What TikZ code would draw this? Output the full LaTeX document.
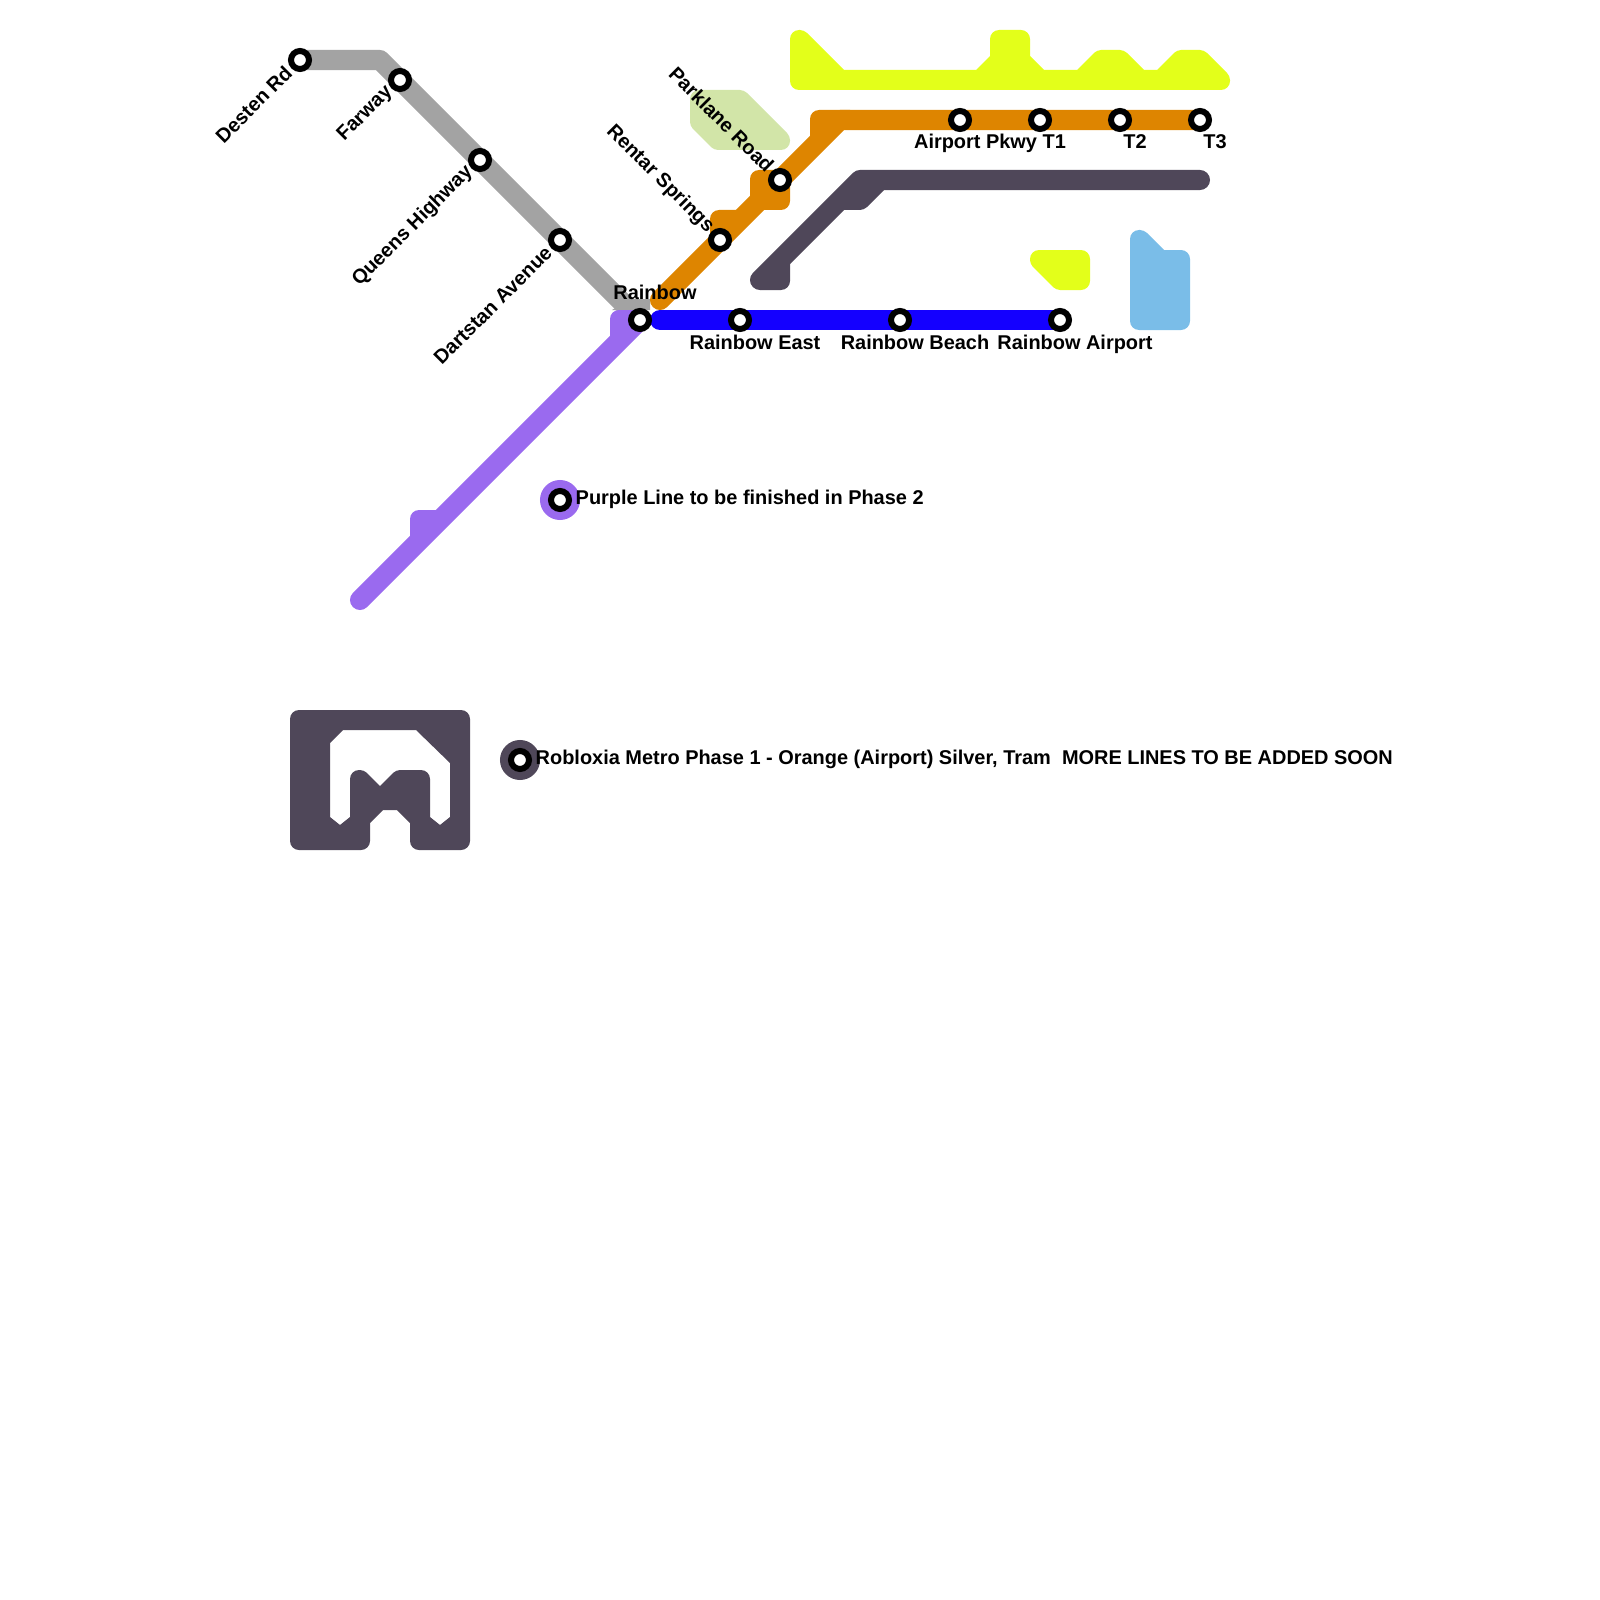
\documentclass[tikz,border=0pt]{standalone}
\usepackage{fontspec}
\setmainfont{Liberation Sans}
\usetikzlibrary{backgrounds}

\definecolor{lineGray}{HTML}{A3A3A3}
\definecolor{lineOrange}{HTML}{DE8500}
\definecolor{lineBlue}{HTML}{1400FF}
\definecolor{linePurple}{HTML}{9A6AEF}
\definecolor{lineDark}{HTML}{4F4759}
\definecolor{lineYellow}{HTML}{E3FF1A}
\definecolor{waterBlue}{HTML}{7ABDE8}
\definecolor{parkGreen}{HTML}{D2E5A8}

\begin{document}
\begin{tikzpicture}[
                x=0.01cm, y=-0.01cm,
                metro/.style = {line width=0.2cm, line cap=round, line join=round},
                blob/.style = {rounded corners=0.09cm},
                soft/.style = {rounded corners=0.04cm},
                station/.style = {circle, draw=black, fill=white, line width=0.06cm, minimum size=0.18cm, inner sep=0pt},
                key/.style = {circle, minimum size=0.4cm, inner sep=0pt},
                % Stile per i testi
                stlabel/.style = {font=\bfseries\fontsize{5.67}{7}\selectfont, inner sep=0pt, anchor=base},
                up label/.style = {stlabel, rotate=45, anchor=east},
                down label/.style = {stlabel, rotate=-45, anchor=east}
                ]
                \useasboundingbox (0,0) rectangle (1600,1600);

                % --- Stazioni ---
                \node[key, fill=linePurple] (purpleKey) at (560,500) {};
                \node[key, fill=lineDark] (metroKey) at (520,760) {};
                \foreach \st/\px/\py in {desten/300/60, farway/400/80, queens/480/160, dartstan/560/240,
                    rainbow/640/320, rentar/720/240, parklane/780/180, pkwy/960/120, tone/1040/120,
                    ttwo/1120/120, tthree/1200/120, rbEast/740/320, rbBeach/900/320, rbAirport/1060/320,
                    purpleDot/560/500, metroDot/520/760} {
                    \node[station] (\st) at (\px,\py) {};
                }

                % --- Curve ---
                \coordinate (grayBend) at (380,60);
                \coordinate (grayEnd) at (630,310);
                \coordinate (orangeEnd) at (660,300);
                \coordinate (orangeBend) at (840,120);
                \coordinate (blueEnd) at (660,320);
                \coordinate (purpleEnd) at (360,600);
                \coordinate (darkEnd) at (1200,180);
                \coordinate (darkBend) at (860,180);
                \coordinate (darkFoot) at (760,280);

                \begin{scope}[on background layer]
                    % --- Zone ---
                    \fill[parkGreen, blob] (690,90) [soft] -- (744,90) -- (790,136) [blob] -- (790,150) [soft] -- (714,150) -- (690,126) [blob] -- cycle;
                    \fill[lineYellow, blob] (790,90) -- (790,30) [soft] -- (804,30) [sharp corners] -- (844,70) -- (976,70) -- (990,56) [blob] -- (990,30) -- (1030,30) [sharp corners] -- (1030,56) -- (1044,70) -- (1077,70) [soft] -- (1097,50) -- (1124,50) [sharp corners] -- (1144,70) -- (1157,70) [soft] -- (1177,50) -- (1204,50) -- (1230,76) [blob] -- (1230,90) -- cycle;
                    \fill[lineYellow, blob] (1030,264) [blob] -- (1030,250) -- (1090,250) -- (1090,290) [soft] -- (1056,290) -- cycle;
                    \fill[waterBlue, blob] (1130,330) -- (1130,230) [soft] -- (1144,230) [sharp corners] -- (1164,250) [blob] -- (1190,250) -- (1190,330) -- cycle;

                    % --- Linee ---
                    \draw[metro, lineGray, line cap=butt] (desten.center) -- (grayBend) -- (grayEnd);
                    \fill[lineGray] (612,310) -- (650,310) -- (650,299) -- (630,299) -- cycle;
                    \draw[metro, linePurple] (purpleEnd) -- (rainbow.center);
                    \fill[linePurple, blob] (610,345) -- (610,310) [sharp corners] -- (645,310) -- cycle;
                    \fill[linePurple, blob] (410,545) -- (410,510) [sharp corners] -- (445,510) -- cycle;
                    \draw[metro, lineOrange] (orangeEnd) -- (rentar.center) -- (parklane.center) -- (orangeBend) -- (tthree.center);
                    \fill[lineOrange, blob] (810,150) -- (810,110) [sharp corners] -- (850,110) -- cycle;
                    \fill[lineOrange, blob] (750,170) [sharp corners] -- (790,170) [blob] -- (790,210) [sharp corners] -- (750,210) [blob] -- cycle;
                    \fill[lineOrange, blob] (710,250) -- (710,210) [sharp corners] -- (750,210) -- cycle;
                    \draw[metro, lineBlue] (blueEnd) -- (rbAirport.center);
                    \draw[metro, lineDark] (darkEnd) -- (darkBend) -- (darkFoot);
                    \fill[lineDark] (790,250) [blob] -- (790,290) [sharp corners] -- (760,290) -- (760,280) -- cycle;
                    \fill[lineDark] (840,190) -- (884,190) [soft] -- (864,210) [sharp corners] -- (840,210) -- cycle;

                    % --- Logo ---
                    \fill[lineDark, even odd rule, blob] (290,710) -- (470,710) -- (470,850) -- (410,850) [sharp corners] -- (410,823) -- (397,810) -- (383,810) -- (370,823) [blob] -- (370,850) -- (290,850) -- cycle
                        [sharp corners] (330,743) -- (343,730) -- (416,730) -- (450,763) -- (450,817) -- (440,825) -- (430,817) [blob] -- (430,770) [soft] -- (396,770) [sharp corners] -- (380,786) [soft] -- (364,770) [blob] -- (350,770) [sharp corners] -- (350,817) -- (340,825) -- (330,817) -- cycle;
                \end{scope}

                % --- Etichette ---
                \node[up label] (lblDesten) at (289,69) {Desten Rd};
                \node[up label] (lblFarway) at (390,89) {Farway};
                \node[up label] (lblQueens) at (470,169) {Queens Highway};
                \node[up label] (lblDartstan) at (549,249) {Dartstan Avenue};
                \node[down label] (lblRentar) at (711,230) {Rentar Springs};
                \node[down label] (lblParklane) at (771,169) {Parklane Road};
                \node[stlabel] (lblRainbow) at (655,299) {Rainbow};
                \node[stlabel] (lblPkwy) at (990,149) {Airport Pkwy T1};
                \node[stlabel] (lblTtwo) at (1135,149) {T2};
                \node[stlabel] (lblTthree) at (1215,149) {T3};
                \node[stlabel] (lblEast) at (755,349) {Rainbow East};
                \node[stlabel] (lblBeach) at (915,349) {Rainbow Beach};
                \node[stlabel] (lblAirport) at (1075,349) {Rainbow Airport};
                \node[stlabel, anchor=base west] (lblPurple) at (575,504) {Purple Line to be finished in Phase 2};
                \node[stlabel, anchor=base west] (lblMetro) at (535,764) {Robloxia Metro Phase 1 - Orange (Airport) Silver, Tram\ \ MORE LINES TO BE ADDED SOON};

            \end{tikzpicture}
\end{document}
